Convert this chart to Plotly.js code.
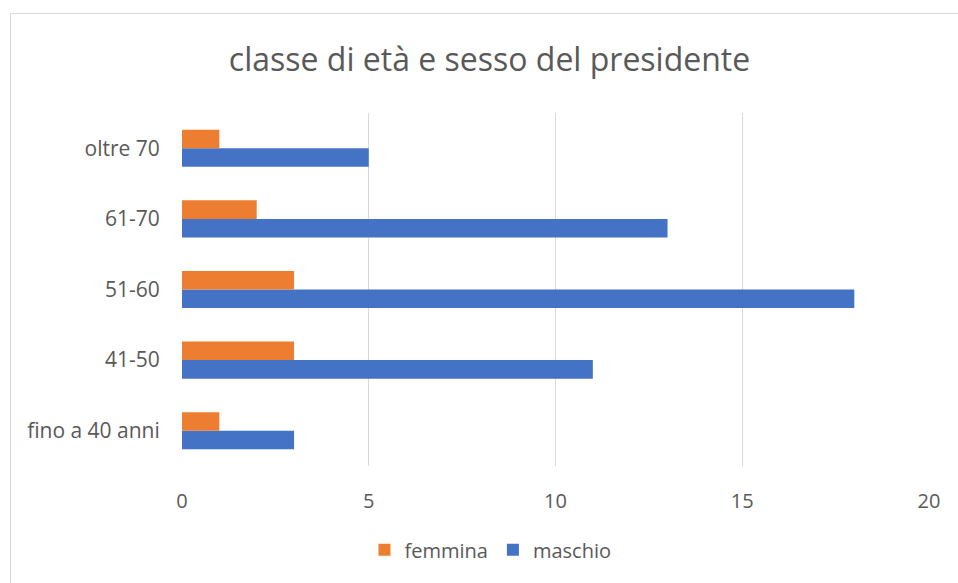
<!DOCTYPE html>
<html>
<head>
<meta charset="utf-8">
<script src="https://cdn.plot.ly/plotly-3.0.1.min.js"></script>
<style>
  html, body { margin: 0; padding: 0; background: #ffffff; overflow: hidden; }
  #frame { position: absolute; left: 10px; top: 13px; width: 980px; height: 600px; border: 1.5px solid #d9d9d9; }
  #chart { position: absolute; left: 0; top: 0; width: 958px; height: 583px; }
</style>
</head>
<body>
<div id="frame"></div>
<div id="chart"></div>
<script>
const categories = ["fino a 40 anni", "41-50", "51-60", "61-70", "oltre 70"];
const femmina = [1, 3, 3, 2, 1];
const maschio = [3, 11, 18, 13, 5];
const xTicks = [0, 5, 10, 15, 20];

const font = "Open Sans, Liberation Sans, sans-serif";
const traces = [
  { type: "bar", orientation: "h", name: "maschio", y: categories, x: maschio,
    marker: { color: "#4472C4" }, legendrank: 2, hoverinfo: "x+y+name" },
  { type: "bar", orientation: "h", name: "femmina", y: categories, x: femmina,
    marker: { color: "#ED7D31" }, legendrank: 1, hoverinfo: "x+y+name" }
];

const layout = {
  width: 958, height: 583,
  paper_bgcolor: "rgba(0,0,0,0)", plot_bgcolor: "rgba(0,0,0,0)",
  margin: { l: 182, r: 29, t: 113, b: 117 },
  barmode: "group", bargap: 0.475, bargroupgap: 0,
  font: { family: font, color: "#595959", size: 20 },
  title: { text: "classe di età e sesso del presidente", font: { family: font, size: 32, color: "#595959" },
           x: 0.511, xref: "container", xanchor: "center", y: 0.897, yref: "container", yanchor: "middle" },
  xaxis: { range: [0, 20], tickvals: xTicks, ticktext: xTicks.map(String), showgrid: true, gridcolor: "#d9d9d9", gridwidth: 1.3,
           zeroline: false, showline: false, ticks: "outside", ticklen: 17, tickcolor: "rgba(0,0,0,0)",
           tickfont: { size: 20, color: "#595959" }, fixedrange: true },
  yaxis: { type: "category", categoryorder: "array", categoryarray: categories, range: [-0.5, 4.5],
           showgrid: false, zeroline: false, showline: false, ticks: "outside", ticklen: 17, tickcolor: "rgba(0,0,0,0)",
           tickfont: { size: 21, color: "#595959" }, fixedrange: true },
  showlegend: true,
  legend: { orientation: "h", xref: "container", yref: "container", x: 0.512, xanchor: "center", y: 0.057, yanchor: "middle",
            font: { size: 20, color: "#595959" }, itemwidth: 30, traceorder: "normal" }
};

Plotly.newPlot("chart", traces, layout, { displayModeBar: false, staticPlot: true });
</script>
</body>
</html>
